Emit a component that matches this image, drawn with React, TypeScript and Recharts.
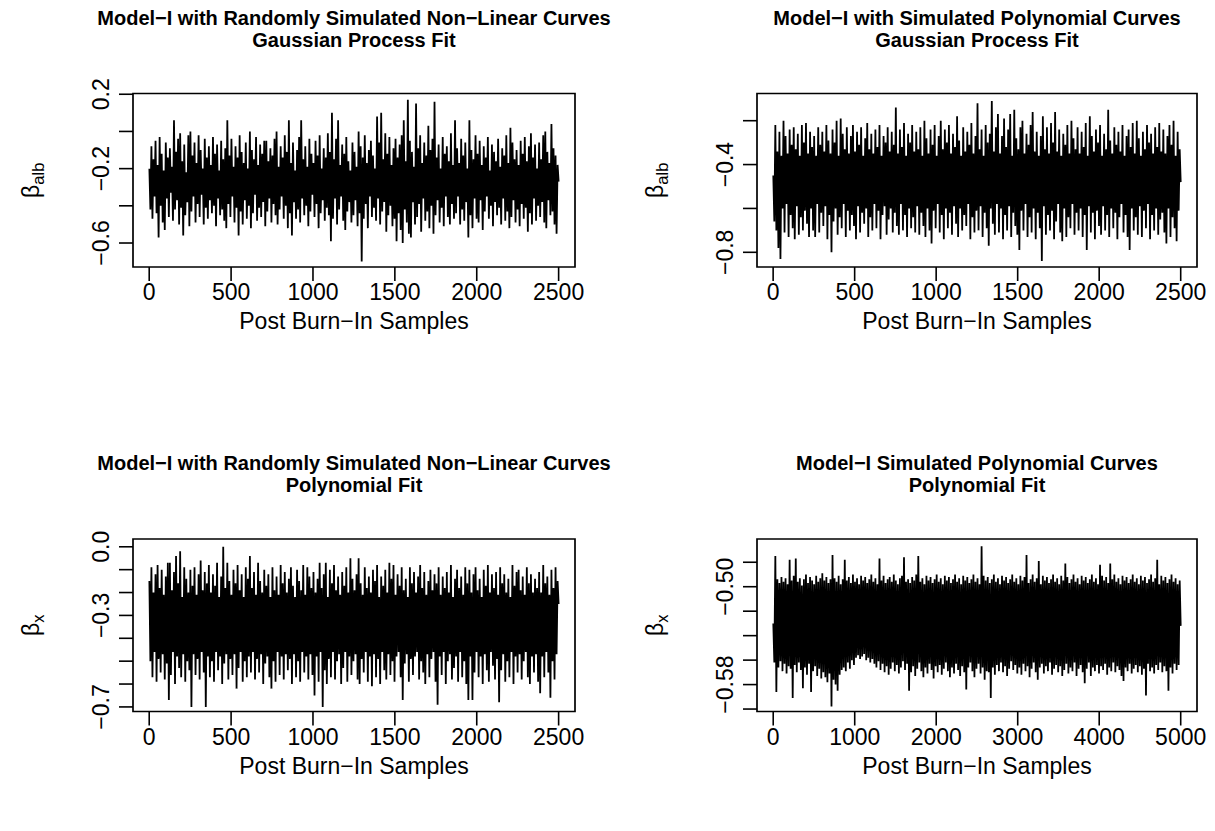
import React from "react";
import { LineChart, Line, XAxis, YAxis, ReferenceArea } from "recharts";

const FONT = "'Liberation Sans', Arial, Helvetica, sans-serif";

// thinned posterior draws
const gpRandomBetaAlb = [
  -0.20, -0.42, -0.08, -0.47, -0.15, -0.35, -0.05, -0.44, -0.18, -0.57, -0.03, -0.40, -0.12, -0.49, -0.21, -0.53, -0.06, -0.36, -0.14, -0.46,
  -0.09, -0.33, -0.19, -0.48, 0.06, -0.42, -0.11, -0.37, -0.04, -0.50, -0.01, -0.41, -0.16, -0.56, -0.07, -0.45, -0.22, -0.38, -0.02, -0.51,
  0.00, -0.43, -0.13, -0.35, -0.06, -0.49, -0.17, -0.39, -0.02, -0.46, -0.10, -0.34, -0.20, -0.50, -0.04, -0.41, -0.14, -0.47, -0.08, -0.37,
  -0.18, -0.44, -0.03, -0.40, -0.12, -0.51, -0.07, -0.36, -0.21, -0.45, -0.05, -0.42, -0.15, -0.48, -0.09, -0.52, 0.06, -0.39, -0.13, -0.46,
  -0.04, -0.35, -0.19, -0.49, -0.08, -0.41, -0.14, -0.56, -0.02, -0.43, -0.11, -0.50, -0.17, -0.37, -0.06, -0.47, -0.20, -0.40, 0.00, -0.52,
  -0.10, -0.44, -0.15, -0.34, -0.03, -0.48, -0.18, -0.41, -0.07, -0.46, -0.12, -0.38, -0.05, -0.51, -0.05, -0.43, -0.16, -0.36, -0.09, -0.49,
  -0.13, -0.39, -0.04, -0.45, 0.00, -0.50, -0.19, -0.42, -0.08, -0.35, -0.14, -0.47, -0.02, -0.40, -0.11, -0.52, 0.06, -0.44, -0.17, -0.56,
  -0.06, -0.38, -0.21, -0.47, -0.10, -0.42, -0.03, -0.49, 0.06, -0.36, -0.15, -0.45, -0.08, -0.40, -0.19, -0.51, -0.04, -0.43, -0.12, -0.34,
  -0.17, -0.46, -0.05, -0.39, -0.13, -0.52, -0.02, -0.44, -0.20, -0.37, -0.09, -0.48, -0.14, -0.41, -0.01, -0.45, -0.11, -0.59, 0.10, -0.47,
  -0.15, -0.36, -0.04, -0.50, 0.06, -0.42, -0.18, -0.35, -0.07, -0.48, -0.12, -0.53, -0.03, -0.43, -0.16, -0.38, -0.21, -0.49, -0.06, -0.45,
  -0.11, -0.37, -0.19, -0.51, 0.00, -0.44, -0.08, -0.70, -0.14, -0.47, -0.02, -0.39, -0.17, -0.52, -0.10, -0.35, -0.05, -0.46, -0.13, -0.41,
  -0.20, -0.48, 0.08, -0.36, -0.06, -0.50, 0.10, -0.43, -0.15, -0.38, -0.01, -0.54, -0.12, -0.45, -0.03, -0.40, -0.18, -0.51, -0.09, -0.47,
  -0.04, -0.59, -0.14, -0.44, -0.07, -0.53, -0.02, -0.60, 0.06, -0.42, -0.16, -0.49, 0.17, -0.55, -0.05, -0.57, -0.11, -0.38, -0.19, -0.50,
  0.15, -0.46, -0.09, -0.39, -0.02, -0.54, -0.17, -0.36, -0.06, -0.48, -0.13, -0.43, 0.03, -0.52, -0.10, -0.40, -0.04, -0.55, 0.16, -0.45,
  -0.14, -0.37, -0.07, -0.49, -0.20, -0.41, -0.03, -0.51, -0.12, -0.35, -0.08, -0.46, -0.16, -0.50, -0.01, -0.39, -0.18, -0.47, 0.06, -0.44,
  -0.09, -0.35, -0.17, -0.50, -0.04, -0.42, -0.13, -0.48, -0.06, -0.38, -0.20, -0.57, 0.06, -0.45, -0.10, -0.52, -0.15, -0.36, -0.02, -0.47,
  -0.12, -0.49, -0.05, -0.37, -0.18, -0.53, -0.08, -0.43, -0.14, -0.35, -0.03, -0.47, -0.21, -0.40, -0.07, -0.51, -0.11, -0.38, -0.16, -0.45,
  -0.04, -0.41, -0.19, -0.50, -0.09, -0.36, -0.13, -0.48, -0.02, -0.43, -0.17, -0.52, 0.02, -0.46, -0.06, -0.37, -0.15, -0.49, -0.10, -0.42,
  -0.18, -0.51, -0.05, -0.39, -0.12, -0.47, -0.03, -0.41, -0.16, -0.54, -0.08, -0.44, -0.01, -0.50, -0.14, -0.36, -0.07, -0.48, -0.20, -0.40,
  -0.06, -0.46, -0.15, -0.38, -0.02, -0.49, 0.00, -0.52, -0.11, -0.37, -0.17, -0.45, 0.04, -0.43, -0.09, -0.50, -0.13, -0.55, -0.18, -0.27,
];

const gpPolyBetaAlb = [
  -0.45, -0.66, -0.22, -0.70, -0.34, -0.78, -0.25, -0.83, -0.36, -0.60, -0.20, -0.71, -0.27, -0.58, -0.35, -0.73, -0.24, -0.63, -0.31, -0.69,
  -0.23, -0.74, -0.33, -0.59, -0.26, -0.72, -0.36, -0.64, -0.22, -0.70, -0.30, -0.61, -0.21, -0.67, -0.35, -0.73, -0.25, -0.60, -0.32, -0.70,
  -0.27, -0.73, -0.36, -0.58, -0.23, -0.71, -0.31, -0.62, -0.25, -0.68, -0.34, -0.59, -0.22, -0.74, -0.29, -0.63, -0.35, -0.80, -0.24, -0.66,
  -0.30, -0.60, -0.20, -0.72, -0.36, -0.64, -0.19, -0.69, -0.26, -0.58, -0.33, -0.73, -0.23, -0.61, -0.35, -0.70, -0.27, -0.63, -0.22, -0.68,
  -0.34, -0.74, -0.25, -0.59, -0.31, -0.71, -0.23, -0.62, -0.36, -0.67, -0.28, -0.60, -0.21, -0.73, -0.33, -0.64, -0.26, -0.70, -0.35, -0.58,
  -0.24, -0.69, -0.32, -0.61, -0.22, -0.74, -0.36, -0.63, -0.27, -0.59, -0.30, -0.72, -0.23, -0.65, -0.34, -0.60, -0.25, -0.71, -0.31, -0.62,
  -0.14, -0.68, -0.35, -0.72, -0.24, -0.58, -0.32, -0.70, -0.21, -0.63, -0.36, -0.73, -0.26, -0.60, -0.30, -0.69, -0.22, -0.64, -0.34, -0.71,
  -0.25, -0.59, -0.33, -0.72, -0.23, -0.62, -0.36, -0.68, -0.20, -0.73, -0.28, -0.60, -0.35, -0.70, -0.24, -0.76, -0.31, -0.61, -0.22, -0.69,
  -0.36, -0.58, -0.27, -0.71, -0.20, -0.63, -0.33, -0.74, -0.24, -0.60, -0.30, -0.69, -0.22, -0.62, -0.35, -0.72, -0.26, -0.59, -0.32, -0.67,
  -0.18, -0.73, -0.29, -0.60, -0.36, -0.70, -0.23, -0.63, -0.34, -0.68, -0.25, -0.58, -0.31, -0.74, -0.21, -0.64, -0.35, -0.71, -0.27, -0.61,
  -0.12, -0.70, -0.33, -0.59, -0.24, -0.73, -0.36, -0.62, -0.22, -0.69, -0.30, -0.77, -0.26, -0.60, -0.11, -0.67, -0.34, -0.72, -0.23, -0.58,
  -0.17, -0.71, -0.35, -0.60, -0.27, -0.74, -0.19, -0.63, -0.32, -0.70, -0.24, -0.59, -0.17, -0.73, -0.36, -0.62, -0.15, -0.68, -0.28, -0.72,
  -0.33, -0.79, -0.23, -0.61, -0.20, -0.70, -0.35, -0.58, -0.26, -0.73, -0.31, -0.64, -0.22, -0.71, -0.16, -0.60, -0.34, -0.74, -0.25, -0.62,
  -0.36, -0.69, -0.27, -0.84, -0.18, -0.59, -0.33, -0.72, -0.23, -0.63, -0.35, -0.70, -0.21, -0.61, -0.30, -0.74, -0.16, -0.66, -0.34, -0.58,
  -0.24, -0.71, -0.36, -0.75, -0.26, -0.60, -0.31, -0.73, -0.22, -0.64, -0.35, -0.69, -0.20, -0.58, -0.28, -0.72, -0.33, -0.62, -0.23, -0.70,
  -0.35, -0.60, -0.25, -0.73, -0.32, -0.63, -0.21, -0.79, -0.36, -0.59, -0.18, -0.71, -0.27, -0.62, -0.34, -0.74, -0.24, -0.61, -0.30, -0.68,
  -0.22, -0.72, -0.36, -0.59, -0.26, -0.70, -0.33, -0.63, -0.15, -0.73, -0.29, -0.60, -0.35, -0.69, -0.23, -0.62, -0.31, -0.74, -0.25, -0.64,
  -0.34, -0.58, -0.22, -0.71, -0.36, -0.63, -0.27, -0.73, -0.24, -0.79, -0.32, -0.60, -0.21, -0.70, -0.35, -0.64, -0.20, -0.72, -0.28, -0.59,
  -0.36, -0.73, -0.25, -0.61, -0.33, -0.69, -0.22, -0.58, -0.30, -0.74, -0.26, -0.63, -0.35, -0.70, -0.23, -0.60, -0.32, -0.72, -0.21, -0.65,
  -0.34, -0.62, -0.24, -0.71, -0.35, -0.76, -0.27, -0.60, -0.22, -0.73, -0.31, -0.64, -0.20, -0.69, -0.36, -0.75, -0.25, -0.61, -0.33, -0.48,
];

const polyRandomBetaX = [
  -0.15, -0.50, -0.09, -0.57, -0.20, -0.46, -0.12, -0.59, -0.08, -0.49, -0.18, -0.55, -0.10, -0.47, -0.21, -0.58, -0.13, -0.51, -0.07, -0.67,
  -0.07, -0.56, -0.19, -0.46, -0.11, -0.60, -0.04, -0.48, -0.16, -0.53, -0.02, -0.57, -0.22, -0.47, -0.09, -0.59, -0.14, -0.50, -0.20, -0.54,
  -0.10, -0.70, -0.17, -0.47, -0.09, -0.56, -0.21, -0.49, -0.12, -0.58, -0.06, -0.46, -0.19, -0.55, -0.11, -0.70, -0.16, -0.48, -0.08, -0.57,
  -0.20, -0.50, -0.12, -0.59, -0.17, -0.46, -0.07, -0.54, -0.22, -0.48, -0.13, -0.60, 0.00, -0.51, -0.18, -0.47, -0.07, -0.58, -0.15, -0.49,
  -0.21, -0.56, -0.10, -0.47, -0.16, -0.62, -0.08, -0.53, -0.19, -0.46, -0.12, -0.59, -0.22, -0.50, -0.09, -0.57, -0.14, -0.48, -0.04, -0.55,
  -0.18, -0.46, -0.11, -0.58, -0.21, -0.49, -0.07, -0.55, -0.15, -0.47, -0.20, -0.60, -0.10, -0.51, -0.17, -0.48, -0.12, -0.57, -0.22, -0.62,
  -0.09, -0.50, -0.19, -0.59, -0.13, -0.46, -0.21, -0.56, -0.08, -0.48, -0.16, -0.58, -0.11, -0.47, -0.20, -0.54, -0.14, -0.49, -0.09, -0.60,
  -0.17, -0.47, -0.22, -0.57, -0.10, -0.50, -0.15, -0.59, -0.19, -0.46, -0.08, -0.55, -0.21, -0.48, -0.09, -0.58, -0.13, -0.47, -0.18, -0.56,
  -0.11, -0.65, -0.20, -0.48, -0.14, -0.59, -0.07, -0.46, -0.18, -0.70, -0.12, -0.54, -0.07, -0.60, -0.22, -0.49, -0.10, -0.57, -0.16, -0.46,
  -0.08, -0.58, -0.19, -0.50, -0.13, -0.47, -0.21, -0.60, -0.11, -0.53, -0.17, -0.46, -0.09, -0.59, -0.20, -0.48, -0.05, -0.56, -0.14, -0.50,
  -0.19, -0.47, -0.12, -0.58, -0.05, -0.60, -0.16, -0.49, -0.21, -0.55, -0.09, -0.46, -0.18, -0.59, -0.13, -0.48, -0.20, -0.61, -0.10, -0.47,
  -0.15, -0.57, -0.08, -0.49, -0.22, -0.60, -0.13, -0.46, -0.17, -0.54, -0.10, -0.58, -0.20, -0.47, -0.07, -0.56, -0.14, -0.50, -0.08, -0.59,
  -0.21, -0.48, -0.12, -0.46, -0.17, -0.57, -0.09, -0.67, -0.19, -0.51, -0.14, -0.47, -0.22, -0.59, -0.09, -0.49, -0.16, -0.56, -0.11, -0.48,
  -0.20, -0.46, -0.13, -0.58, -0.08, -0.50, -0.18, -0.55, -0.11, -0.60, -0.21, -0.47, -0.15, -0.57, -0.10, -0.49, -0.19, -0.46, -0.12, -0.59,
  -0.16, -0.69, -0.09, -0.48, -0.21, -0.56, -0.13, -0.46, -0.18, -0.60, -0.11, -0.50, -0.20, -0.47, -0.08, -0.58, -0.22, -0.53, -0.14, -0.48,
  -0.10, -0.59, -0.18, -0.46, -0.13, -0.57, -0.21, -0.50, -0.09, -0.60, -0.16, -0.67, -0.10, -0.48, -0.20, -0.67, -0.12, -0.55, -0.09, -0.46,
  -0.19, -0.57, -0.14, -0.48, -0.22, -0.60, -0.10, -0.47, -0.17, -0.54, -0.08, -0.59, -0.20, -0.46, -0.12, -0.52, -0.18, -0.58, -0.11, -0.49,
  -0.21, -0.68, -0.09, -0.54, -0.16, -0.47, -0.12, -0.59, -0.20, -0.50, -0.14, -0.57, -0.22, -0.46, -0.08, -0.60, -0.17, -0.48, -0.11, -0.55,
  -0.10, -0.47, -0.19, -0.58, -0.13, -0.50, -0.21, -0.46, -0.09, -0.57, -0.16, -0.60, -0.12, -0.48, -0.20, -0.55, -0.14, -0.47, -0.18, -0.59,
  -0.11, -0.64, -0.20, -0.48, -0.08, -0.57, -0.16, -0.46, -0.13, -0.55, -0.21, -0.66, -0.10, -0.50, -0.18, -0.58, -0.09, -0.47, -0.15, -0.25,
];

const polyPolyBetaX = [
  -0.530, -0.562, -0.475, -0.586, -0.494, -0.566, -0.497, -0.561, -0.492, -0.569, -0.496, -0.563, -0.493, -0.571, -0.498, -0.565, -0.478, -0.567, -0.495, -0.591,
  -0.491, -0.564, -0.477, -0.570, -0.496, -0.562, -0.493, -0.568, -0.499, -0.583, -0.494, -0.566, -0.490, -0.572, -0.497, -0.563, -0.492, -0.586, -0.495, -0.569,
  -0.498, -0.565, -0.491, -0.573, -0.496, -0.567, -0.493, -0.575, -0.489, -0.570, -0.495, -0.574, -0.492, -0.578, -0.497, -0.571, -0.494, -0.598, -0.474, -0.576,
  -0.493, -0.580, -0.496, -0.585, -0.491, -0.572, -0.498, -0.568, -0.494, -0.566, -0.478, -0.569, -0.495, -0.562, -0.492, -0.567, -0.497, -0.560, -0.490, -0.564,
  -0.496, -0.558, -0.493, -0.556, -0.498, -0.559, -0.491, -0.557, -0.495, -0.555, -0.492, -0.560, -0.497, -0.558, -0.494, -0.562, -0.490, -0.559, -0.496, -0.563,
  -0.493, -0.566, -0.498, -0.561, -0.477, -0.568, -0.495, -0.563, -0.491, -0.570, -0.497, -0.565, -0.494, -0.572, -0.492, -0.567, -0.496, -0.562, -0.490, -0.569,
  -0.495, -0.564, -0.498, -0.571, -0.493, -0.566, -0.491, -0.561, -0.476, -0.568, -0.496, -0.563, -0.494, -0.585, -0.497, -0.570, -0.492, -0.565, -0.495, -0.573,
  -0.490, -0.567, -0.475, -0.562, -0.496, -0.569, -0.493, -0.574, -0.498, -0.566, -0.491, -0.571, -0.495, -0.563, -0.492, -0.568, -0.497, -0.575, -0.494, -0.565,
  -0.490, -0.570, -0.496, -0.564, -0.493, -0.572, -0.498, -0.567, -0.491, -0.562, -0.495, -0.569, -0.492, -0.574, -0.497, -0.566, -0.494, -0.571, -0.490, -0.563,
  -0.496, -0.568, -0.493, -0.573, -0.498, -0.565, -0.491, -0.570, -0.495, -0.584, -0.492, -0.566, -0.497, -0.562, -0.494, -0.569, -0.490, -0.574, -0.496, -0.567,
  -0.493, -0.563, -0.498, -0.571, -0.467, -0.566, -0.491, -0.576, -0.495, -0.569, -0.492, -0.570, -0.497, -0.591, -0.494, -0.566, -0.490, -0.572, -0.496, -0.564,
  -0.493, -0.569, -0.498, -0.562, -0.491, -0.570, -0.495, -0.565, -0.492, -0.573, -0.497, -0.567, -0.494, -0.561, -0.490, -0.568, -0.496, -0.564, -0.493, -0.571,
  -0.498, -0.566, -0.491, -0.572, -0.495, -0.563, -0.492, -0.569, -0.474, -0.565, -0.497, -0.574, -0.494, -0.567, -0.490, -0.562, -0.496, -0.570, -0.493, -0.576,
  -0.479, -0.566, -0.498, -0.563, -0.491, -0.571, -0.495, -0.565, -0.492, -0.569, -0.497, -0.562, -0.494, -0.572, -0.490, -0.567, -0.496, -0.564, -0.493, -0.570,
  -0.498, -0.565, -0.491, -0.573, -0.495, -0.568, -0.481, -0.563, -0.492, -0.571, -0.497, -0.566, -0.494, -0.569, -0.490, -0.562, -0.496, -0.573, -0.493, -0.567,
  -0.498, -0.564, -0.491, -0.570, -0.495, -0.579, -0.492, -0.567, -0.497, -0.562, -0.494, -0.573, -0.490, -0.566, -0.496, -0.569, -0.493, -0.564, -0.498, -0.571,
  -0.482, -0.565, -0.491, -0.568, -0.495, -0.563, -0.492, -0.572, -0.497, -0.566, -0.481, -0.569, -0.494, -0.562, -0.490, -0.570, -0.496, -0.565, -0.493, -0.568,
  -0.498, -0.573, -0.491, -0.577, -0.495, -0.566, -0.492, -0.569, -0.497, -0.563, -0.494, -0.571, -0.490, -0.567, -0.496, -0.564, -0.493, -0.570, -0.498, -0.565,
  -0.491, -0.572, -0.495, -0.567, -0.492, -0.589, -0.497, -0.563, -0.494, -0.569, -0.490, -0.566, -0.496, -0.571, -0.493, -0.564, -0.478, -0.568, -0.498, -0.562,
  -0.491, -0.570, -0.495, -0.565, -0.492, -0.569, -0.497, -0.585, -0.494, -0.566, -0.490, -0.571, -0.496, -0.563, -0.493, -0.568, -0.498, -0.564, -0.495, -0.532,
];

const ticks2500 = [0, 500, 1000, 1500, 2000, 2500];
const ticks5000 = [0, 1000, 2000, 3000, 4000, 5000];

const yTicksGpRandom = [0.2, 0.0, -0.2, -0.4, -0.6];
const yLabelsGpRandom = ["0.2", "−0.2", "−0.6"];
const yTicksGpPoly = [-0.2, -0.4, -0.6, -0.8];
const yLabelsGpPoly = ["−0.4", "−0.8"];
const yTicksPolyRandom = [0.0, -0.1, -0.2, -0.3, -0.4, -0.5, -0.6, -0.7];
const yLabelsPolyRandom = ["0.0", "−0.3", "−0.7"];
const yTicksPolyPoly = [-0.48, -0.5, -0.52, -0.54, -0.56, -0.58, -0.6];
const yLabelsPolyPoly = ["−0.50", "−0.58"];

const XLAB = "Post Burn−In Samples";
const AXIS_FS = 23;
const YW = 60;
const XH = 40;

const fmt = (v: number, dec: number) => v.toFixed(dec).replace("-", "−");

type Box = { l: number; r: number; t: number; b: number };
type Frame = { left: number; top: number; width: number; height: number };

type PanelProps = {
  draws: number[];
  nSamples: number;
  xDomain: [number, number];
  xTicks: number[];
  yDomain: [number, number];
  yTicks: number[];
  yLabels: string[];
  yDec: number;
  frame: Frame;
  box: Box;
  title: string;
  subtitle: string;
  sub: string;
};

function TracePanel(p: PanelProps) {
  const { frame, box } = p;
  const data = p.draws.map((v, i) => ({
    iter: 1 + (i * (p.nSamples - 1)) / (p.draws.length - 1),
    value: v,
  }));
  const margin = {
    top: box.t - frame.top,
    left: box.l - frame.left - YW,
    right: frame.left + frame.width - box.r,
    bottom: frame.top + frame.height - box.b - XH,
  };

  const XTick = ({ x, y, payload }: any) => (
    <text x={x} y={y + 17} textAnchor="middle" fontFamily={FONT} fontSize={AXIS_FS} fill="#000">
      {String(payload.value)}
    </text>
  );

  const YTick = ({ x, y, payload }: any) => {
    const s = fmt(payload.value, p.yDec);
    if (!p.yLabels.includes(s)) return <g />;
    const bx = x - 8;
    return (
      <text
        x={bx}
        y={y}
        transform={`rotate(-90 ${bx} ${y})`}
        textAnchor="middle"
        fontFamily={FONT}
        fontSize={AXIS_FS}
        fill="#000"
      >
        {s}
      </text>
    );
  };

  return (
    <div style={{ position: "absolute", left: frame.left, top: frame.top }}>
      <LineChart width={frame.width} height={frame.height} data={data} margin={margin}>
        <XAxis
          dataKey="iter"
          type="number"
          domain={p.xDomain}
          allowDataOverflow
          ticks={p.xTicks}
          interval={0}
          height={XH}
          axisLine={false}
          tickSize={14}
          tickLine={{ stroke: "#000", strokeWidth: 1.6 }}
          tick={<XTick />}
        />
        <YAxis
          type="number"
          domain={p.yDomain}
          allowDataOverflow
          ticks={p.yTicks}
          interval={0}
          width={YW}
          axisLine={false}
          tickSize={14}
          tickLine={{ stroke: "#000", strokeWidth: 1.6 }}
          tick={<YTick />}
        />
        <Line
          type="linear"
          dataKey="value"
          stroke="#000"
          strokeWidth={1.8}
          dot={false}
          isAnimationActive={false}
        />
        <ReferenceArea
          x1={p.xDomain[0]}
          x2={p.xDomain[1]}
          y1={p.yDomain[0]}
          y2={p.yDomain[1]}
          fill="none"
          stroke="#000"
          strokeWidth={1.7}
          ifOverflow="visible"
        />
      </LineChart>
    </div>
  );
}

function PanelText({ box, title, subtitle, sub }: { box: Box; title: string; subtitle: string; sub: string }) {
  const cx = (box.l + box.r) / 2;
  const ly = (box.t + box.b) / 2;
  const lx = box.l - 94;
  return (
    <g fontFamily={FONT} fill="#000">
      <text x={cx} y={box.t - 69} textAnchor="middle" fontSize={20} fontWeight="bold">
        {title}
      </text>
      <text x={cx} y={box.t - 47} textAnchor="middle" fontSize={20} fontWeight="bold">
        {subtitle}
      </text>
      <text x={cx} y={box.b + 62} textAnchor="middle" fontSize={AXIS_FS}>
        {XLAB}
      </text>
      <text x={lx} y={ly} transform={`rotate(-90 ${lx} ${ly})`} textAnchor="middle" fontSize={AXIS_FS}>
        β
        <tspan fontSize={16.5} dy={5}>
          {sub}
        </tspan>
      </text>
    </g>
  );
}

export default function App() {
  const panels: PanelProps[] = [
    {
      draws: gpRandomBetaAlb,
      nSamples: 2500,
      xDomain: [-99, 2600],
      xTicks: ticks2500,
      yDomain: [-0.729, 0.204],
      yTicks: yTicksGpRandom,
      yLabels: yLabelsGpRandom,
      yDec: 1,
      frame: { left: 0, top: 0, width: 607, height: 415 },
      box: { l: 133, r: 575, t: 93.5, b: 267 },
      title: "Model−I with Randomly Simulated Non−Linear Curves",
      subtitle: "Gaussian Process Fit",
      sub: "alb",
    },
    {
      draws: gpPolyBetaAlb,
      nSamples: 2500,
      xDomain: [-99, 2600],
      xTicks: ticks2500,
      yDomain: [-0.867, -0.076],
      yTicks: yTicksGpPoly,
      yLabels: yLabelsGpPoly,
      yDec: 1,
      frame: { left: 607, top: 0, width: 608, height: 415 },
      box: { l: 757, r: 1197, t: 93.5, b: 267 },
      title: "Model−I with Simulated Polynomial Curves",
      subtitle: "Gaussian Process Fit",
      sub: "alb",
    },
    {
      draws: polyRandomBetaX,
      nSamples: 2500,
      xDomain: [-99, 2600],
      xTicks: ticks2500,
      yDomain: [-0.72, 0.034],
      yTicks: yTicksPolyRandom,
      yLabels: yLabelsPolyRandom,
      yDec: 1,
      frame: { left: 0, top: 415, width: 607, height: 416 },
      box: { l: 133, r: 575, t: 539, b: 711.5 },
      title: "Model−I with Randomly Simulated Non−Linear Curves",
      subtitle: "Polynomial Fit",
      sub: "x",
    },
    {
      draws: polyPolyBetaX,
      nSamples: 5000,
      xDomain: [-199, 5200],
      xTicks: ticks5000,
      yDomain: [-0.602, -0.461],
      yTicks: yTicksPolyPoly,
      yLabels: yLabelsPolyPoly,
      yDec: 2,
      frame: { left: 607, top: 415, width: 608, height: 416 },
      box: { l: 757, r: 1197, t: 539, b: 711.5 },
      title: "Model−I Simulated Polynomial Curves",
      subtitle: "Polynomial Fit",
      sub: "x",
    },
  ];

  return (
    <div style={{ position: "absolute", left: 0, top: 0, width: 1215, height: 831, background: "#fff" }}>
      {panels.map((p, i) => (
        <TracePanel key={i} {...p} />
      ))}
      <svg
        width={1215}
        height={831}
        style={{ position: "absolute", left: 0, top: 0, pointerEvents: "none" }}
      >
        {panels.map((p, i) => (
          <PanelText key={i} box={p.box} title={p.title} subtitle={p.subtitle} sub={p.sub} />
        ))}
      </svg>
    </div>
  );
}
